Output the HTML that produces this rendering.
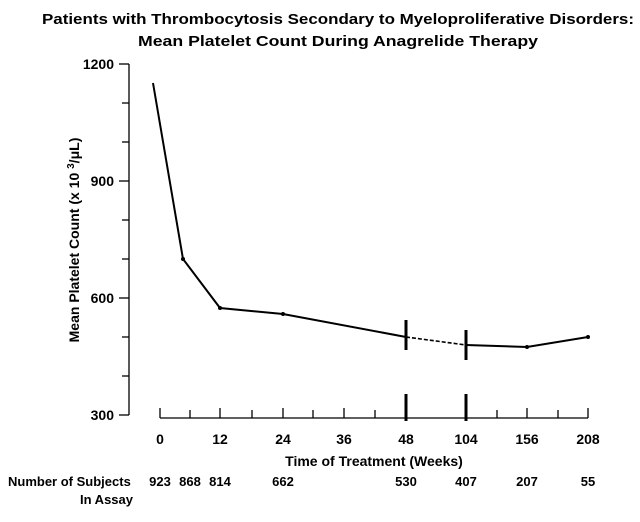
<!DOCTYPE html>
<html><head><style>
body{margin:0;background:#fff;}
svg{display:block;font-family:"Liberation Sans",Arial,sans-serif;font-weight:bold;}
</style></head><body>
<svg width="640" height="522" viewBox="0 0 640 522" xmlns="http://www.w3.org/2000/svg">
<rect width="640" height="522" fill="#fff"/>
<text x="338" y="24" text-anchor="middle" font-size="15" textLength="592" lengthAdjust="spacingAndGlyphs">Patients with Thrombocytosis Secondary to Myeloproliferative Disorders:</text>
<text x="338" y="46" text-anchor="middle" font-size="15" textLength="400" lengthAdjust="spacingAndGlyphs">Mean Platelet Count During Anagrelide Therapy</text>
<g stroke="#000" stroke-width="1.3" fill="none">
<line x1="129" y1="64" x2="129" y2="415"/>
<line x1="119" y1="64" x2="129" y2="64"/><line x1="119" y1="181" x2="129" y2="181"/><line x1="119" y1="298" x2="129" y2="298"/><line x1="119" y1="415" x2="129" y2="415"/>
<line x1="122" y1="103" x2="129" y2="103"/><line x1="122" y1="142" x2="129" y2="142"/><line x1="122" y1="220" x2="129" y2="220"/><line x1="122" y1="259" x2="129" y2="259"/><line x1="122" y1="337" x2="129" y2="337"/><line x1="122" y1="376" x2="129" y2="376"/>
<line x1="160" y1="418" x2="588" y2="418"/>
<line x1="160" y1="408" x2="160" y2="418"/><line x1="190" y1="410" x2="190" y2="418"/><line x1="220" y1="408" x2="220" y2="418"/><line x1="252" y1="410" x2="252" y2="418"/><line x1="283" y1="408" x2="283" y2="418"/><line x1="313" y1="410" x2="313" y2="418"/><line x1="344" y1="408" x2="344" y2="418"/><line x1="375" y1="410" x2="375" y2="418"/><line x1="497" y1="410" x2="497" y2="418"/><line x1="527" y1="408" x2="527" y2="418"/><line x1="558" y1="410" x2="558" y2="418"/><line x1="588" y1="408" x2="588" y2="418"/>
</g>
<g stroke="#000" stroke-width="3">
<line x1="406" y1="394" x2="406" y2="421"/><line x1="466" y1="394" x2="466" y2="421"/>
<line x1="406" y1="320" x2="406" y2="350"/><line x1="466" y1="330" x2="466" y2="360"/>
</g>
<polyline points="153,83 183,259 220,308 283,314 406,337" fill="none" stroke="#000" stroke-width="2"/>
<line x1="406" y1="337" x2="466" y2="345" stroke="#000" stroke-width="1.6" stroke-dasharray="4,2"/>
<polyline points="466,345 527,347 588,337" fill="none" stroke="#000" stroke-width="2"/>
<g fill="#000"><circle cx="183" cy="259" r="2"/><circle cx="220" cy="308" r="2"/><circle cx="283" cy="314" r="2"/><circle cx="527" cy="347" r="2"/><circle cx="588" cy="337" r="2"/></g>
<g font-size="14" text-anchor="end">
<text x="114" y="69">1200</text><text x="114" y="186">900</text><text x="114" y="303">600</text><text x="114" y="420">300</text>
</g>
<g font-size="14" text-anchor="middle">
<text x="160" y="444">0</text><text x="220" y="444">12</text><text x="283" y="444">24</text><text x="344" y="444">36</text><text x="406" y="444">48</text><text x="466" y="444">104</text><text x="527" y="444">156</text><text x="588" y="444">208</text>
</g>
<text x="374" y="466" font-size="14" text-anchor="middle">Time of Treatment (Weeks)</text>
<text transform="translate(79,240) rotate(-90)" font-size="14" text-anchor="middle">Mean Platelet Count (x 10 <tspan font-size="10" dy="-5">3</tspan><tspan dy="5">/μL)</tspan></text>
<g font-size="13">
<text x="8" y="486">Number of Subjects</text><text x="80" y="504">In Assay</text>
</g>
<g font-size="13" text-anchor="middle">
<text x="160" y="486">923</text><text x="190" y="486">868</text><text x="220" y="486">814</text><text x="283" y="486">662</text><text x="406" y="486">530</text><text x="466" y="486">407</text><text x="527" y="486">207</text><text x="588" y="486">55</text>
</g>
</svg>
</body></html>
